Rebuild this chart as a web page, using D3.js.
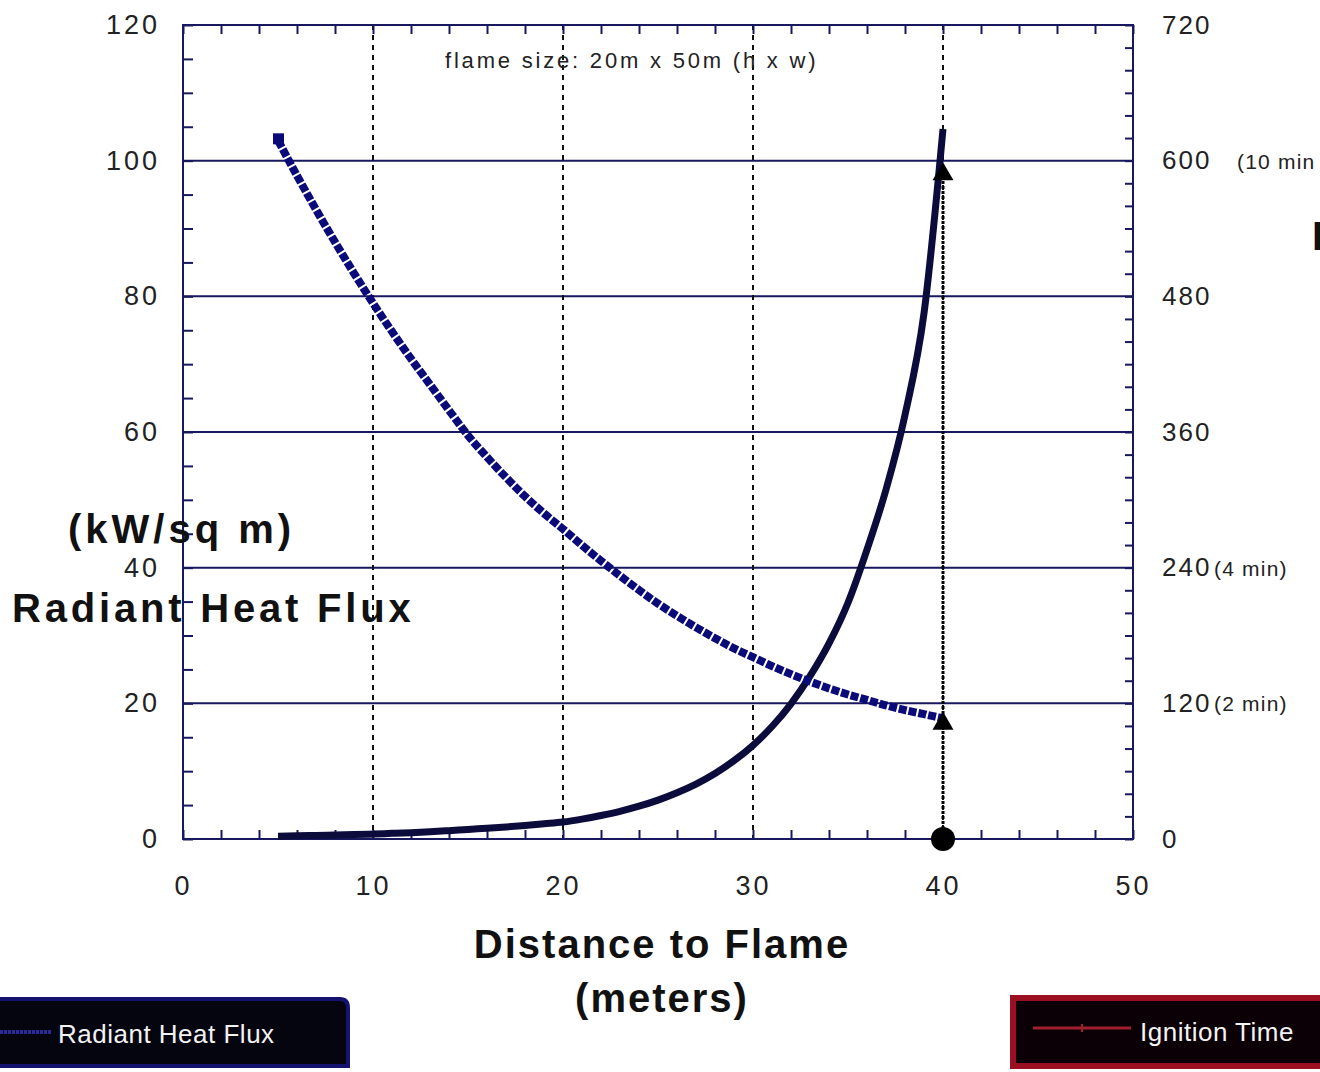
<!DOCTYPE html>
<html>
<head>
<meta charset="utf-8">
<script src="https://cdn.jsdelivr.net/npm/d3@7"></script>
<style>
  body { margin: 0; background: #fff; }
  svg { display: block; font-family: "Liberation Sans", Arial, sans-serif; }
</style>
</head>
<body>
<div id="chart"></div>
<script>
// distance to flame (m)
var distances = [5,6,7,8,9,10,11,12,13,14,15,16,17,18,19,20,21,22,23,24,25,26,27,28,29,30,31,32,33,34,35,36,37,38,39,40];
// radiant heat flux, kW/sq m (left axis)
var fluxValues = [103,97.8,92.8,88,83.4,79,74.8,70.8,67,63.2,59.5,56.3,53.3,50.5,48,45.7,43.3,41,38.8,36.7,34.7,32.9,31.2,29.6,28.1,26.8,25.5,24.3,23.2,22.2,21.3,20.5,19.7,19,18.4,17.8];
// ignition time, sec (right axis)
var ignitionValues = [2.5,2.8,3.1,3.5,3.9,4.4,5,5.6,6.4,7.4,8.5,9.5,10.6,11.9,13.4,15,17.6,20.8,24.5,29,34.4,40.9,48.6,58,69.3,82.9,99.5,119.6,144,173,209,256,309,375,465,628];

var xTicks = [0,10,20,30,40,50];
var leftTicks = [0,20,40,60,80,100,120];
var rightTicks = [0,120,240,360,480,600,720];
var rightNotes = {600: "(10 min", 240: "(4 min)", 120: "(2 min)"};

// arrow marking 40 m: flux reached, then the ignition time it gives
var arrowDistance = 40;
var arrowFlux = 17;
var arrowTime = 588;

var W = 1320, H = 1072;
var svg = d3.select('#chart').append('svg').attr('width', W).attr('height', H);

var x = d3.scaleLinear().domain([0, 50]).range([183, 1133]);
var y = d3.scaleLinear().domain([0, 120]).range([839, 25]);
var y2 = d3.scaleLinear().domain([0, 720]).range([839, 25]);

var navy = '#18185e';

// horizontal grid
svg.append('g').selectAll('line').data(leftTicks.slice(1)).enter().append('line')
    .attr('x1', x(0)).attr('x2', x(50))
    .attr('y1', function(d) { return y(d); }).attr('y2', function(d) { return y(d); })
    .attr('stroke', navy).attr('stroke-width', 2);

// vertical dashed grid
svg.append('g').selectAll('line').data([10,20,30,40]).enter().append('line')
    .attr('x1', function(d) { return x(d); }).attr('x2', function(d) { return x(d); })
    .attr('y1', y(120)).attr('y2', y(0))
    .attr('stroke', '#111').attr('stroke-width', 2).attr('stroke-dasharray', '5,5');

// minor ticks (inward)
function noLabels(g) { g.select('.domain').remove(); g.selectAll('text').remove(); g.selectAll('line').attr('stroke', navy).attr('stroke-width', 2); }
svg.append('g').attr('transform', 'translate(0,' + y(0) + ')')
    .call(d3.axisBottom(x).tickValues(d3.range(0, 51, 2)).tickSize(-9)).call(noLabels);
svg.append('g').attr('transform', 'translate(0,' + y(120) + ')')
    .call(d3.axisTop(x).tickValues(d3.range(0, 51, 2)).tickSize(-9)).call(noLabels);
svg.append('g').attr('transform', 'translate(' + x(0) + ',0)')
    .call(d3.axisLeft(y).tickValues(d3.range(0, 121, 5)).tickSize(-10)).call(noLabels);
svg.append('g').attr('transform', 'translate(' + x(50) + ',0)')
    .call(d3.axisRight(y2).tickValues(d3.range(0, 721, 20)).tickSize(-8)).call(noLabels);

// frame
svg.append('rect').attr('x', x(0)).attr('y', y(120))
    .attr('width', x(50) - x(0)).attr('height', y(0) - y(120))
    .attr('fill', 'none').attr('stroke', navy).attr('stroke-width', 2);

// tick labels
function labelStyle(size, spacing) {
    return function(g) {
        g.select('.domain').remove();
        g.selectAll('line').remove();
        g.selectAll('text').attr('font-size', size).attr('fill', '#222')
            .attr('font-family', '"Liberation Sans", Arial, sans-serif').style('letter-spacing', spacing + 'px');
    };
}
svg.append('g').attr('transform', 'translate(' + (x(0) - 20) + ',0)')
    .call(d3.axisLeft(y).tickValues(leftTicks).tickSize(0)).call(labelStyle(27, 3));
svg.append('g').attr('transform', 'translate(0,' + (y(0) + 34) + ')')
    .call(d3.axisBottom(x).tickValues(xTicks).tickSize(0).tickFormat(d3.format('d'))).call(labelStyle(27, 3));
svg.append('g').attr('transform', 'translate(' + (x(50) + 26) + ',0)')
    .call(d3.axisRight(y2).tickValues(rightTicks).tickSize(0)).call(labelStyle(26, 2));

svg.append('g').selectAll('text').data(Object.keys(rightNotes)).enter().append('text')
    .attr('x', function(d) { return +d === 600 ? 1237 : 1214; })
    .attr('y', function(d) { return y2(+d) + 8; })
    .attr('font-size', 21).attr('fill', '#222').style('letter-spacing', '1.2px')
    .text(function(d) { return rightNotes[d]; });

// annotation
svg.append('text').attr('x', 445).attr('y', 68).attr('font-size', 22).attr('fill', '#222')
    .style('letter-spacing', '2.8px')
    .text('flame size:  20m x 50m (h x w)');

// ignition time curve (right axis)
var ignLine = d3.line().x(function(d, i) { return x(distances[i]); }).y(function(d) { return y2(d); }).curve(d3.curveMonotoneX);
svg.append('path').datum(ignitionValues).attr('d', ignLine)
    .attr('fill', 'none').attr('stroke', '#0c0c3c').attr('stroke-width', 7);

// radiant heat flux curve (left axis)
var fluxLine = d3.line().x(function(d, i) { return x(distances[i]); }).y(function(d) { return y(d); }).curve(d3.curveMonotoneX);
svg.append('path').datum(fluxValues).attr('d', fluxLine)
    .attr('fill', 'none').attr('stroke', '#0a0a78').attr('stroke-width', 8).attr('stroke-dasharray', '8,2');
svg.append('rect').attr('x', x(distances[0]) - 5).attr('y', y(fluxValues[0]) - 7)
    .attr('width', 11).attr('height', 11).attr('fill', '#0a0a78');

// arrow at 40 m
svg.append('line').attr('x1', x(arrowDistance)).attr('x2', x(arrowDistance))
    .attr('y1', y(0)).attr('y2', y2(arrowTime))
    .attr('stroke', '#000').attr('stroke-width', 3).attr('stroke-dasharray', '3,2');
var tri = d3.symbol().type(d3.symbolTriangle).size(190);
svg.append('path').attr('d', tri).attr('fill', '#000')
    .attr('transform', 'translate(' + x(arrowDistance) + ',' + y(arrowFlux) + ')');
svg.append('path').attr('d', tri).attr('fill', '#000')
    .attr('transform', 'translate(' + x(arrowDistance) + ',' + y2(arrowTime) + ')');
svg.append('circle').attr('cx', x(arrowDistance)).attr('cy', y(0)).attr('r', 12).attr('fill', '#000');

// axis titles
function title(txt, tx, ty, anchor, spacing) {
    svg.append('text').attr('x', tx).attr('y', ty).attr('text-anchor', anchor)
        .attr('font-size', 40).attr('font-weight', 'bold').attr('fill', '#111')
        .style('letter-spacing', spacing + 'px').text(txt);
}
title('Distance to Flame', 662, 958, 'middle', 2);
title('(meters)', 662, 1012, 'middle', 2);
title('(kW/sq m)', 68, 543, 'start', 4);
title('Radiant Heat Flux', 12, 622, 'start', 3.8);
title('Ignition Time', 1312, 250, 'start', 2);

// legends
svg.append('path').attr('d', 'M-10,999 H340 Q348,999 348,1008 V1066 H-10 Z')
    .attr('fill', '#050510').attr('stroke', '#141470').attr('stroke-width', 4);
svg.append('line').attr('x1', 0).attr('x2', 52).attr('y1', 1032).attr('y2', 1032)
    .attr('stroke', '#2a2aa0').attr('stroke-width', 4).attr('stroke-dasharray', '3,1');
svg.append('text').attr('x', 58).attr('y', 1043).attr('font-size', 26).attr('fill', '#f2f2f2')
    .style('letter-spacing', '0.5px').text('Radiant Heat Flux');

svg.append('rect').attr('x', 1013).attr('y', 998).attr('width', 330).attr('height', 68)
    .attr('fill', '#0a0006').attr('stroke', '#9a1020').attr('stroke-width', 6);
svg.append('line').attr('x1', 1033).attr('x2', 1131).attr('y1', 1028).attr('y2', 1028)
    .attr('stroke', '#a02030').attr('stroke-width', 3);
svg.append('line').attr('x1', 1082).attr('x2', 1082).attr('y1', 1024).attr('y2', 1032)
    .attr('stroke', '#a02030').attr('stroke-width', 2);
svg.append('text').attr('x', 1140).attr('y', 1041).attr('font-size', 26).attr('fill', '#f2f2f2')
    .style('letter-spacing', '0.5px').text('Ignition Time');
</script>
</body>
</html>
